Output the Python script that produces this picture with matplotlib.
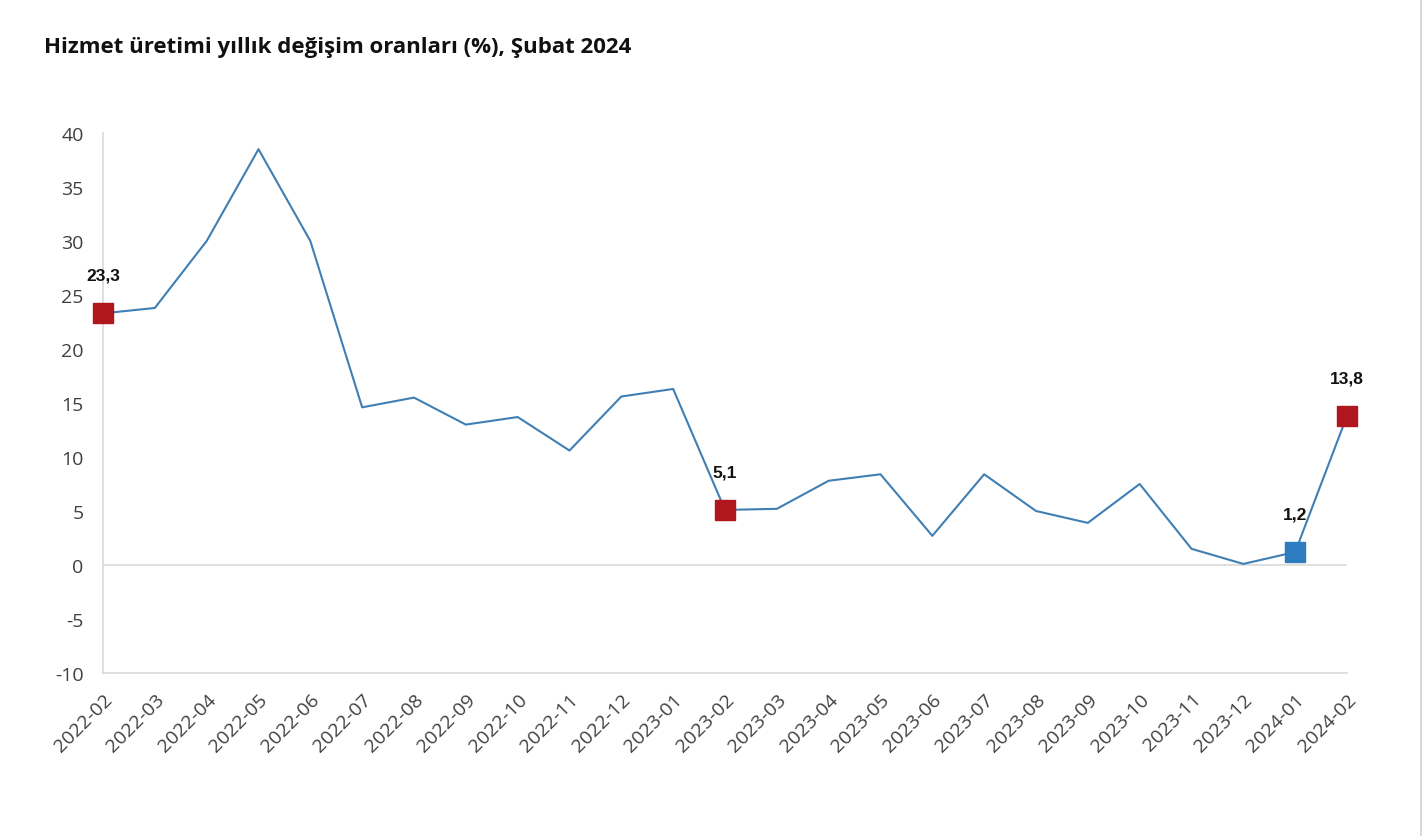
import numpy as np
import matplotlib
matplotlib.use('Agg')
import matplotlib.pyplot as plt
from matplotlib.lines import Line2D

plt.rcParams['axes.unicode_minus'] = False

months = ['2022-02', '2022-03', '2022-04', '2022-05', '2022-06', '2022-07', '2022-08',
          '2022-09', '2022-10', '2022-11', '2022-12', '2023-01', '2023-02', '2023-03',
          '2023-04', '2023-05', '2023-06', '2023-07', '2023-08', '2023-09', '2023-10',
          '2023-11', '2023-12', '2024-01', '2024-02']
values = [23.3, 23.8, 30.0, 38.5, 30.0, 14.6, 15.5, 13.0, 13.7, 10.6, 15.6, 16.3, 5.1,
          5.2, 7.8, 8.4, 2.7, 8.4, 5.0, 3.9, 7.5, 1.5, 0.1, 1.2, 13.8]
red_idx = [0, 12, 24]
blue_idx = [23]
label_text = {0: '23,3', 12: '5,1', 23: '1,2', 24: '13,8'}

fig = plt.figure(figsize=(14.24, 8.37), dpi=100)
ax = fig.add_axes([103/1424, 1-674/837, (1347-103)/1424, (674-134)/837])

x = np.arange(len(months))
ax.plot(x, values, color='#3f7fb3', lw=1.5, zorder=2)
ax.plot(x[red_idx], [values[i] for i in red_idx], 's', ms=15, color='#b0161e',
        zorder=3, clip_on=False)
ax.plot(x[blue_idx], [values[i] for i in blue_idx], 's', ms=15, color='#2e7bbf',
        zorder=3, clip_on=False)

for i, t in label_text.items():
    ax.annotate(t, (x[i], values[i]), xytext=(0, 22), textcoords='offset points',
                ha='center', va='bottom', fontsize=12.5, fontweight='bold',
                family='Liberation Sans', color='#111111')

ax.set_xlim(0, len(months) - 1)
ax.set_ylim(-10, 40)
ax.set_yticks(np.arange(-10, 41, 5))
ax.set_xticks(x)
ax.set_xticklabels(months, rotation=45, ha='right', rotation_mode='anchor')
ax.axhline(0, color='#d9d9d9', lw=1.2, zorder=1)
for s in ['top', 'right']:
    ax.spines[s].set_visible(False)
for s in ['left', 'bottom']:
    ax.spines[s].set_color('#d9d9d9')
    ax.spines[s].set_linewidth(1.2)
ax.tick_params(length=0, labelsize=14, labelcolor='#404040')
ax.tick_params(axis='x', pad=12)
ax.tick_params(axis='y', pad=14)
for lab in ax.get_xticklabels() + ax.get_yticklabels():
    lab.set_family('Open Sans')

fig.text(44/1424, 1-48/837, 'Hizmet üretimi yıllık değişim oranları (%), Şubat 2024',
         fontsize=16, fontweight='bold', family='Open Sans', color='#111111', va='center')
fig.add_artist(Line2D([1421/1424, 1421/1424], [0, 1], color='#d9d9d9', lw=1.5))

fig.savefig('out.png', dpi=100)
